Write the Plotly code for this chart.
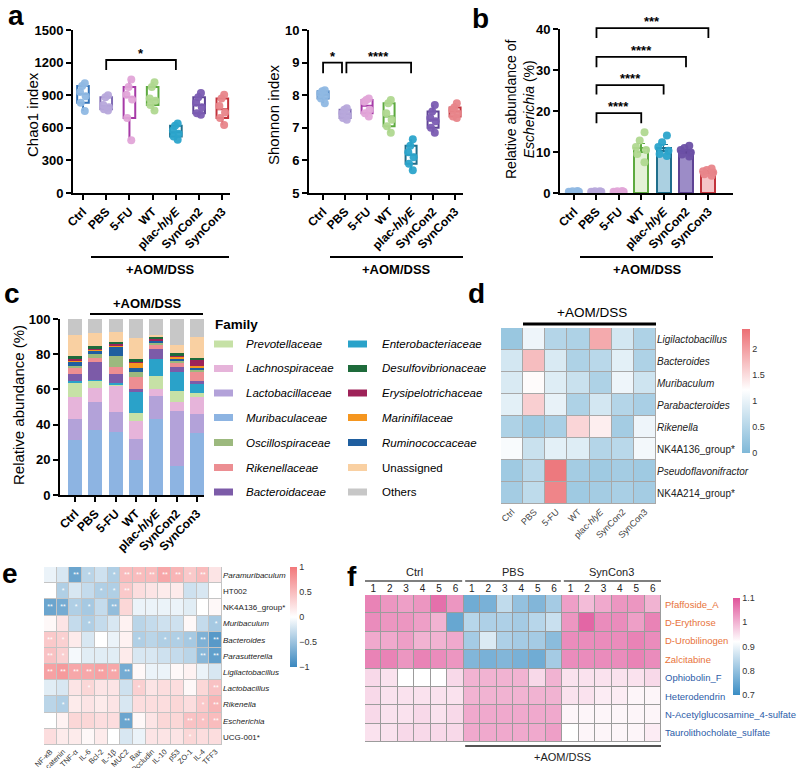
import numpy as np
import plotly.graph_objects as go

W, H = 800, 768
FONT = 'Liberation Sans, Arial, sans-serif'

groups = ['Ctrl', 'PBS', '5-FU', 'WT', 'plac-hlyE', 'SynCon2', 'SynCon3']
group_ticks = ['Ctrl', 'PBS', '5-FU', 'WT', 'plac-<i>hlyE</i>', 'SynCon2', 'SynCon3']

# panel a: alpha diversity (6 mice per group)
chao1 = [
    [755, 830, 890, 930, 985, 1010],
    [760, 770, 790, 810, 880, 900],
    [485, 690, 860, 905, 975, 1045],
    [760, 810, 850, 870, 975, 1020],
    [490, 520, 545, 575, 620, 640],
    [720, 735, 790, 830, 880, 920],
    [625, 690, 740, 800, 870, 905],
]
shannon = [
    [7.75, 7.90, 7.98, 8.05, 8.12, 8.15],
    [7.25, 7.30, 7.38, 7.45, 7.55, 7.60],
    [7.35, 7.45, 7.55, 7.80, 7.85, 7.90],
    [6.85, 7.05, 7.25, 7.45, 7.75, 7.85],
    [5.70, 5.90, 6.10, 6.25, 6.45, 6.65],
    [6.85, 7.00, 7.20, 7.30, 7.50, 7.70],
    [7.30, 7.35, 7.45, 7.55, 7.62, 7.75],
]

# panel b: Escherichia relative abundance (%)
escherichia = [
    [0.3, 0.2, 0.4, 0.1, 0.3, 0.5],
    [0.2, 0.3, 0.4, 0.2, 0.3, 0.4],
    [0.3, 0.4, 0.2, 0.5, 0.3, 0.2],
    [14.8, 12.8, 11.2, 10.5, 9.5, 7.5],
    [14.0, 12.4, 11.2, 10.3, 9.5, 9.0],
    [11.5, 11.0, 10.5, 9.9, 9.4, 8.9],
    [6.0, 5.6, 5.3, 5.0, 4.6, 4.2],
]

# panel c: family composition (%), stacked bottom -> top
families = ['Muribaculaceae', 'Lactobacillaceae', 'Lachnospiraceae', 'Prevotellaceae',
            'Enterobacteriaceae', 'Bacteroidaceae', 'Rikenellaceae', 'Oscillospiraceae',
            'Ruminococcaceae', 'Marinifilaceae', 'Erysipelotrichaceae', 'Desulfovibrionaceae',
            'Unassigned', 'Others']
family_values = [
    [31.5, 37, 36, 20, 43, 16.5, 35],
    [11.5, 16, 11, 12, 13, 31, 11],
    [12.5, 8, 15, 10, 4, 5.5, 9.5],
    [8.5, 4, 1, 4.5, 7.5, 6, 2.5],
    [0.5, 0.5, 0.5, 12, 10, 11, 5],
    [4.5, 10, 5, 1.5, 5.5, 2.5, 2],
    [3, 2.5, 4, 7, 2.5, 3, 5],
    [1.5, 2, 6.5, 3, 1, 1, 1.5],
    [2.5, 2, 5.5, 2, 1, 1, 1],
    [0.5, 0.5, 0.5, 3, 0.5, 1, 1],
    [1, 1, 1, 1, 1, 1, 3.5],
    [1.5, 1, 1, 1, 0.5, 1, 1],
    [12, 7.5, 5.5, 12, 1.5, 4.5, 12],
    [9, 8, 7.5, 11, 9, 15, 10],
]
family_colors = ['#8DB4E2', '#B3A2D9', '#E6B4DA', '#C6E1A6', '#2AA2C9', '#7C5BA8',
                 '#EC8E92', '#9CB97E', '#1F5E9F', '#F5961F', '#9E2258', '#1E6B3B',
                 '#F9D0A2', '#C7C7C7']
legend_col1 = ['Prevotellaceae', 'Lachnospiraceae', 'Lactobacillaceae', 'Muribaculaceae',
               'Oscillospiraceae', 'Rikenellaceae', 'Bacteroidaceae']
legend_col2 = ['Enterobacteriaceae', 'Desulfovibrionaceae', 'Erysipelotrichaceae',
               'Marinifilaceae', 'Ruminococcaceae', 'Unassigned', 'Others']

# panel d: genus fold change heatmap
d_rows = ['<i>Ligilactobacillus</i>', '<i>Bacteroides</i>', '<i>Muribaculum</i>',
          '<i>Parabacteroides</i>', '<i>Rikenella</i>', 'NK4A136_group*',
          '<i>Pseudoflavonifractor</i>', 'NK4A214_group*']
d_values = [
    [0.25, 1.05, 0.50, 0.45, 1.90, 0.80, 0.45],
    [0.80, 1.75, 0.85, 0.45, 0.55, 0.95, 0.45],
    [0.85, 1.25, 0.90, 0.70, 0.45, 1.05, 0.75],
    [0.95, 1.60, 1.00, 0.45, 0.80, 0.50, 0.40],
    [0.45, 0.30, 0.40, 1.55, 1.35, 0.35, 1.05],
    [1.15, 0.70, 0.95, 0.90, 0.50, 0.55, 1.10],
    [0.30, 0.55, 2.30, 0.35, 0.30, 0.35, 0.30],
    [0.35, 0.60, 2.20, 0.30, 0.35, 0.40, 0.35],
]

# panel e: correlation genus vs host markers
e_cols = ['NF-κB', 'β-catenin', 'TNF-α', 'IL-6', 'Bcl-2', 'IL-1β', 'MUC2', 'Bax',
          'Occludin', 'IL-10', 'p53', 'ZO-1', 'IL-4', 'TFF3']
e_rows = ['<i>Paramuribaculum</i>', 'HT002', 'NK4A136_group*', '<i>Muribaculum</i>',
          '<i>Bacteroides</i>', '<i>Parasutterella</i>', '<i>Ligilactobacillus</i>',
          '<i>Lactobacillus</i>', '<i>Rikenella</i>', '<i>Escherichia</i>', 'UCG-001*']
e_values = [
    [-0.10, -0.20, -0.75, -0.35, -0.25, -0.40, 0.50, 0.50, 0.50, 0.65, 0.55, 0.40, 0.50, 0.20],
    [0.00, -0.40, -0.20, -0.30, -0.40, -0.40, 0.40, 0.25, 0.20, 0.15, 0.15, -0.25, -0.20, 0.00],
    [-0.75, -0.70, -0.40, -0.45, -0.30, -0.55, 0.30, -0.10, -0.10, -0.10, -0.10, -0.15, 0.00, 0.05],
    [0.05, 0.20, -0.30, -0.40, -0.30, -0.20, 0.10, -0.35, -0.30, -0.25, -0.25, 0.05, -0.30, -0.45],
    [0.40, 0.35, 0.15, -0.20, 0.00, -0.10, 0.10, -0.40, -0.35, -0.40, -0.40, -0.45, -0.65, -0.85],
    [0.45, 0.35, -0.05, -0.15, -0.15, -0.15, 0.15, -0.20, -0.20, -0.25, -0.30, -0.35, -0.60, -0.80],
    [0.70, 0.75, 0.65, 0.65, 0.70, 0.65, -0.70, 0.05, -0.10, -0.10, 0.05, 0.10, -0.10, -0.20],
    [-0.15, -0.20, 0.20, 0.30, 0.20, 0.20, -0.25, 0.35, 0.20, 0.25, 0.25, 0.05, 0.30, 0.45],
    [-0.35, -0.40, 0.15, 0.20, 0.15, 0.20, -0.20, 0.25, 0.25, 0.25, 0.30, 0.25, 0.40, 0.55],
    [0.00, 0.10, 0.30, 0.30, 0.25, 0.25, -0.75, 0.05, 0.20, 0.30, 0.30, 0.45, 0.45, 0.50],
    [0.25, 0.15, 0.15, 0.05, 0.15, 0.00, -0.20, -0.10, 0.20, 0.20, 0.20, 0.30, 0.25, 0.25],
]
e_stars = [
    ['', '', '**', '*', '', '*', '**', '**', '**', '**', '**', '*', '**', ''],
    ['', '*', '', '', '*', '*', '**', '', '', '', '', '', '', ''],
    ['**', '**', '*', '*', '', '**', '', '', '', '', '', '', '', ''],
    ['', '', '', '*', '', '', '', '', '', '', '', '', '', '*'],
    ['**', '*', '', '', '', '', '', '*', '', '*', '*', '*', '**', '**'],
    ['**', '*', '', '', '', '', '', '', '', '', '', '', '**', '**'],
    ['**', '**', '**', '**', '**', '**', '**', '', '', '', '', '', '', ''],
    ['', '', '', '*', '', '', '', '*', '', '', '', '', '', '**'],
    ['', '*', '', '', '', '', '', '', '', '', '', '', '*', '**'],
    ['', '', '', '', '', '', '**', '', '', '', '', '**', '*', '**'],
    ['', '', '', '', '', '', '', '', '', '', '', '*', '', ''],
]

# panel f: metabolite heatmap (Ctrl 1-6, PBS 1-6, SynCon3 1-6)
f_groups = ['Ctrl', 'PBS', 'SynCon3']
f_rows = ['Pfaffoside_A', 'D-Erythrose', 'D-Urobilinogen', 'Zalcitabine', 'Ophiobolin_F',
          'Heterodendrin', 'N-Acetylglucosamine_4-sulfate', 'Taurolithocholate_sulfate']
f_row_colors = ['#E8733A'] * 4 + ['#2C5CA8'] * 4
f_values = [
    [1.05, 1.03, 1.02, 1.03, 1.07, 1.03, 0.76, 0.77, 0.85, 0.80, 0.78, 0.82, 1.02, 0.99, 1.01, 1.03, 1.03, 1.00],
    [1.04, 1.03, 1.03, 1.02, 1.00, 0.75, 0.84, 0.83, 0.83, 0.82, 0.84, 0.86, 1.03, 1.08, 1.04, 1.04, 1.02, 1.05],
    [1.01, 1.01, 1.02, 1.00, 1.00, 1.01, 0.82, 0.88, 0.83, 0.82, 0.82, 0.79, 1.04, 1.04, 1.04, 1.04, 1.05, 1.04],
    [1.05, 1.05, 1.03, 1.05, 1.04, 1.03, 0.78, 0.77, 0.78, 0.77, 0.76, 0.82, 1.04, 1.04, 1.04, 1.04, 1.05, 1.04],
    [0.96, 0.95, 0.92, 0.92, 0.92, 0.96, 1.00, 1.00, 1.00, 1.00, 0.96, 1.00, 0.95, 0.95, 0.95, 0.95, 0.95, 0.96],
    [0.96, 0.95, 0.95, 0.95, 0.95, 0.95, 1.00, 1.00, 1.00, 1.00, 1.00, 1.00, 0.95, 0.95, 0.94, 0.94, 0.93, 0.93],
    [0.96, 0.95, 0.95, 0.96, 0.95, 0.96, 1.01, 1.01, 1.01, 1.01, 1.01, 1.01, 0.93, 0.93, 0.93, 0.93, 0.93, 0.93],
    [0.95, 0.95, 0.96, 0.96, 0.96, 0.96, 1.01, 1.01, 1.01, 1.01, 1.01, 1.02, 0.92, 0.93, 0.93, 0.93, 0.93, 0.94],
]

line_colors = ['#3473B8', '#7F6BB4', '#A63AA7', '#5DAA3F', '#1F6E8C', '#5E4394', '#C2333C']
point_colors = ['#8FB8E3', '#B7A8DB', '#E2A5D8', '#B0D890', '#2BA4CB', '#7B5CB2', '#E8858A']
bar_fill = ['#C9DDF2', '#DAD2EE', '#F2D3EE', '#E4F1D7', '#ABD0E1', '#9C8CC7', '#F5C4C7']

# pixel boxes of each subplot (x0, x1), (ytop, ybottom)
AX = {
    'a1': dict(x=(73, 230), y=(30, 193), xr=(-0.43, 6.33), yr=(0, 1500)),
    'a2': dict(x=(309, 463), y=(30, 193), xr=(-0.64, 6.36), yr=(5, 10)),
    'b': dict(x=(560, 733), y=(29, 193), xr=(-0.63, 7.1), yr=(0, 40)),
    'c': dict(x=(60, 204), y=(319, 495), xr=(-0.74, 6.35), yr=(0, 100)),
    'd': dict(x=(501, 656), y=(328, 504)),
    'e': dict(x=(44, 222), y=(567, 745)),
    'f': dict(x=(365, 661), y=(595, 742)),
}


def px(x):
    return x / W


def py(y):
    return 1 - y / H


def dom(name):
    a = AX[name]
    return [px(a['x'][0]), px(a['x'][1])], [py(a['y'][1]), py(a['y'][0])]


def to_paper(name, vx, vy):
    a = AX[name]
    fx = a['x'][0] + (vx - a['xr'][0]) / (a['xr'][1] - a['xr'][0]) * (a['x'][1] - a['x'][0])
    fy = a['y'][1] - (vy - a['yr'][0]) / (a['yr'][1] - a['yr'][0]) * (a['y'][1] - a['y'][0])
    return px(fx), py(fy)


fig = go.Figure()

# ---- panel a boxes
for ax_name, xa, ya, data in [('a1', 'x', 'y', chao1), ('a2', 'x2', 'y2', shannon)]:
    for i, vals in enumerate(data):
        fig.add_trace(go.Box(x=[i] * len(vals), y=vals, xaxis=xa, yaxis=ya, width=0.5,
                             line=dict(color=line_colors[i], width=2), fillcolor='white',
                             boxpoints='all', jitter=0.6, pointpos=0, whiskerwidth=0,
                             quartilemethod='exclusive',
                             marker=dict(color=point_colors[i], size=8, opacity=0.95),
                             showlegend=False, hoverinfo='skip'))

# ---- panel b bars + points
for i, vals in enumerate(escherichia):
    m = float(np.mean(vals))
    sem = float(np.std(vals, ddof=1) / np.sqrt(len(vals)))
    fig.add_trace(go.Bar(x=[i], y=[m], xaxis='x3', yaxis='y3', width=0.62,
                         marker=dict(color=bar_fill[i], line=dict(color=line_colors[i], width=2)),
                         error_y=dict(type='data', array=[sem], color=line_colors[i], thickness=1.5, width=4),
                         showlegend=False, hoverinfo='skip'))
for i, vals in enumerate(escherichia):
    fig.add_trace(go.Box(x=[i] * len(vals), y=vals, xaxis='x3', yaxis='y3', width=0.62,
                         line=dict(color='rgba(0,0,0,0)', width=0), fillcolor='rgba(0,0,0,0)',
                         boxpoints='all', jitter=0.9, pointpos=0,
                         marker=dict(color=point_colors[i] if i != 5 else '#6B50A5', size=8, opacity=0.95),
                         showlegend=False, hoverinfo='skip'))

# ---- panel c stacked bars
for fam, vals, col in zip(families, family_values, family_colors):
    fig.add_trace(go.Bar(x=list(range(7)), y=vals, xaxis='x4', yaxis='y4', width=0.69,
                         marker=dict(color=col, line=dict(width=0)), name=fam,
                         showlegend=False, hoverinfo='skip'))

# ---- heatmaps
fig.add_trace(go.Heatmap(z=d_values, x=list(range(7)), y=list(range(8)), xaxis='x5', yaxis='y5',
                         zmin=0, zmax=2.38, xgap=1, ygap=1,
                         colorscale=[[0, '#7FB8D8'], [0.51, '#FFFFFF'], [1, '#EC6F74']],
                         colorbar=dict(x=px(742), xanchor='left', y=py(329), yanchor='top',
                                       len=124, lenmode='pixels', thickness=8, outlinewidth=0,
                                       xpad=0, ypad=0, ticks='', tickvals=[0, 0.5, 1, 1.5, 2],
                                       ticktext=['0', '0.5', '1', '1.5', '2'],
                                       tickfont=dict(size=9, color='#333')),
                         hoverinfo='skip'))
fig.add_trace(go.Heatmap(z=e_values, x=list(range(14)), y=list(range(11)), xaxis='x6', yaxis='y6',
                         zmin=-1, zmax=1, xgap=1, ygap=1, text=e_stars, texttemplate='%{text}',
                         textfont=dict(size=7, color='white'),
                         colorscale=[[0, '#3A87BE'], [0.5, '#FFFFFF'], [1, '#F2787B']],
                         colorbar=dict(x=px(290), xanchor='left', y=py(567), yanchor='top',
                                       len=100, lenmode='pixels', thickness=7, outlinewidth=0,
                                       xpad=0, ypad=0, ticks='', tickvals=[-1, -0.5, 0, 0.5, 1],
                                       ticktext=['−1', '−0.5', '0', '0.5', '1'],
                                       tickfont=dict(size=9, color='#333')),
                         hoverinfo='skip'))
fig.add_trace(go.Heatmap(z=f_values, x=list(range(18)), y=list(range(8)), xaxis='x7', yaxis='y7',
                         zmin=0.7, zmax=1.1, xgap=1, ygap=1,
                         colorscale=[[0, '#3A8DC4'], [0.55, '#FFFFFF'], [1, '#E0539A']],
                         colorbar=dict(x=px(733), xanchor='left', y=py(598), yanchor='top',
                                       len=97, lenmode='pixels', thickness=7, outlinewidth=0,
                                       xpad=0, ypad=0, ticks='', tickvals=[0.7, 0.8, 0.9, 1, 1.1],
                                       ticktext=['0.7', '0.8', '0.9', '1', '1.1'],
                                       tickfont=dict(size=9, color='#333')),
                         hoverinfo='skip'))

# ---- axes
prism_x = dict(showline=True, linecolor='black', linewidth=2, ticks='outside', ticklen=5,
               tickwidth=2, tickcolor='black', showgrid=False, zeroline=False, tickangle=-45,
               tickvals=list(range(7)), ticktext=group_ticks,
               tickfont=dict(size=12, color='black', weight='bold'))
prism_y = dict(showline=True, linecolor='black', linewidth=2, ticks='outside', ticklen=5,
               tickwidth=2, tickcolor='black', showgrid=False, zeroline=False,
               tickfont=dict(size=13, color='black', weight='bold'))
heat_ax = dict(showgrid=False, zeroline=False, showline=False, ticks='')

layout = dict(width=W, height=H, margin=dict(l=0, r=0, t=0, b=0, autoexpand=False),
              paper_bgcolor='white', plot_bgcolor='rgba(0,0,0,0)',
              font=dict(family=FONT, color='black'), barmode='stack', boxmode='overlay')

names = ['a1', 'a2', 'b', 'c', 'd', 'e', 'f']
for k, name in enumerate(names):
    sx = '' if k == 0 else str(k + 1)
    xd, yd = dom(name)
    a = AX[name]
    if name in ('a1', 'a2', 'b', 'c'):
        layout['xaxis' + sx] = dict(prism_x, domain=xd, anchor='y' + sx, range=list(a['xr']))
        layout['yaxis' + sx] = dict(prism_y, domain=yd, anchor='x' + sx, range=list(a['yr']))
layout['yaxis']['tickvals'] = [0, 300, 600, 900, 1200, 1500]
layout['yaxis2']['tickvals'] = [5, 6, 7, 8, 9, 10]
layout['yaxis3']['tickvals'] = [0, 10, 20, 30, 40]
layout['yaxis4']['tickvals'] = [0, 20, 40, 60, 80, 100]

xd, yd = dom('d')
layout['xaxis5'] = dict(heat_ax, domain=xd, anchor='y5', range=[-0.5, 6.5], tickvals=list(range(7)),
                        ticktext=group_ticks, tickangle=-45, tickfont=dict(size=9, color='#444'))
layout['yaxis5'] = dict(heat_ax, domain=yd, anchor='x5', range=[7.5, -0.5], side='right',
                        tickvals=list(range(8)), ticktext=d_rows, tickfont=dict(size=10, color='#222'))
xd, yd = dom('e')
layout['xaxis6'] = dict(heat_ax, domain=xd, anchor='y6', range=[-0.5, 13.5], tickvals=list(range(14)),
                        ticktext=e_cols, tickangle=-45, tickfont=dict(size=7.5, color='#333'))
layout['yaxis6'] = dict(heat_ax, domain=yd, anchor='x6', range=[10.5, -0.5], side='right',
                        tickvals=list(range(11)), ticktext=e_rows, tickfont=dict(size=8, color='#222'))
xd, yd = dom('f')
layout['xaxis7'] = dict(heat_ax, domain=xd, anchor='y7', range=[-0.5, 17.5], side='top',
                        tickvals=list(range(18)), ticktext=[str(j + 1) for j in range(6)] * 3,
                        tickfont=dict(size=10, color='#222'))
layout['yaxis7'] = dict(heat_ax, domain=yd, anchor='x7', range=[7.5, -0.5], showticklabels=False)

fig.update_layout(layout)

shapes = []
ann = []


def text(x, y, s, size, **kw):
    d = dict(x=px(x), y=py(y), xref='paper', yref='paper', text=s, showarrow=False,
             xanchor='center', yanchor='middle',
             font=dict(size=size, family=FONT, color=kw.pop('color', 'black')))
    d.update(kw)
    ann.append(d)


def hline(x0, x1, y, width=2, color='black'):
    shapes.append(dict(type='line', xref='paper', yref='paper', x0=px(x0), x1=px(x1),
                       y0=py(y), y1=py(y), line=dict(color=color, width=width)))


# gray cell borders behind heatmaps
for xa, ya, nx, ny, col in [('x5', 'y5', 7, 8, '#A8A8A8'), ('x6', 'y6', 14, 11, '#C4C4C4'),
                            ('x7', 'y7', 18, 8, '#9C9C9C')]:
    shapes.append(dict(type='rect', xref=xa, yref=ya, x0=-0.5, x1=nx - 0.5, y0=-0.5, y1=ny - 0.5,
                       fillcolor=col, line=dict(width=0), layer='below'))

# significance brackets: (x start, x end, y top, y leg end, label)
brackets = {
    'a1': [(1, 4, 1224, 1132, '*')],
    'a2': [(0, 0.86, 9.0, 8.67, '*'), (1.06, 4, 9.0, 8.67, '****')],
    'b': [(1, 3, 19.5, 17, '****'), (1, 4, 26.3, 24, '****'),
          (1, 5, 33.2, 30.7, '****'), (1, 6, 40.2, 37.8, '***')],
}
for name, items in brackets.items():
    for x0, x1, ytop, yleg, lab in items:
        ax0, ayl = to_paper(name, x0, yleg)
        ax1, ayt = to_paper(name, x1, ytop)
        shapes.append(dict(type='path', xref='paper', yref='paper',
                           path=f'M {ax0} {ayl} L {ax0} {ayt} L {ax1} {ayt} L {ax1} {ayl}',
                           line=dict(color='black', width=1.8)))
        ann.append(dict(x=(ax0 + ax1) / 2, y=ayt, xref='paper', yref='paper', text='<b>' + lab + '</b>',
                        showarrow=False, xanchor='center', yanchor='bottom', yshift=-3,
                        font=dict(size=13, family=FONT, color='black')))

# treatment lines
hline(91, 229, 257)
text(160, 269, '<b>+AOM/DSS</b>', 13)
hline(330, 463, 257)
text(396, 269, '<b>+AOM/DSS</b>', 13)
hline(580, 713, 257)
text(647, 269, '<b>+AOM/DSS</b>', 13)
hline(90, 203, 314)
text(147, 304, '<b>+AOM/DSS</b>', 13)
hline(523, 656, 324, width=3)
text(592, 312, '+AOM/DSS', 13.5)

# axis titles
text(32, 115, 'Chao1 index', 15, textangle=-90)
text(273, 115, 'Shonnon index', 15, textangle=-90)
text(520, 110, 'Relative abundance of<br><i>Escherichia</i> (%)', 14, textangle=-90)
text(18, 405, 'Relative abundance (%)', 15, textangle=-90)

# panel letters
for s, x, y in [('a', 16, 15), ('b', 480, 18), ('c', 12, 293), ('d', 477, 293),
                ('e', 10, 573), ('f', 352, 576)]:
    text(x, y, '<b>' + s + '</b>', 28)

# panel c legend
text(213, 325, '<b>Family</b>', 13.5, xanchor='left')
rows_y = [344, 368.5, 393, 417.5, 442.5, 467.5, 492]
for col_names, sx, tx in [(legend_col1, 214, 244), (legend_col2, 348, 380)]:
    for nm, yy in zip(col_names, rows_y):
        c = family_colors[families.index(nm)]
        shapes.append(dict(type='rect', xref='paper', yref='paper', x0=px(sx), x1=px(sx + 19),
                           y0=py(yy + 3.5), y1=py(yy - 3.5), fillcolor=c, line=dict(width=0)))
        lab = nm if nm in ('Unassigned', 'Others') else '<i>' + nm + '</i>'
        text(tx, yy, lab, 11.5, xanchor='left')

# panel f group headers and row labels
fx0, fx1 = AX['f']['x']
cw = (fx1 - fx0) / 18
for g, nm in enumerate(f_groups):
    gx0 = fx0 + g * 6 * cw
    hline(gx0 + (0 if g == 0 else 1.5), gx0 + 6 * cw - (0 if g == 2 else 1.5), 581, width=1.5, color='#555')
    text(gx0 + 3 * cw, 572, nm, 11, color='#222')
hline(fx0 + 6 * cw + 1.5, fx1, 746, width=2, color='#555')
text(fx0 + 12 * cw, 757, '+AOM/DSS', 11, color='#222')
for r, (nm, col) in enumerate(zip(f_rows, f_row_colors)):
    ann.append(dict(x=px(663), y=r, xref='paper', yref='y7', text=nm, showarrow=False,
                    xanchor='left', yanchor='middle', font=dict(size=9.5, family=FONT, color=col)))

fig.update_layout(shapes=shapes, annotations=ann)
# page body has a default 8px margin; drop it so the figure fills the window
fig.write_html('out.html', config={'displayModeBar': False},
               post_script="document.body.style.margin='0px';")
